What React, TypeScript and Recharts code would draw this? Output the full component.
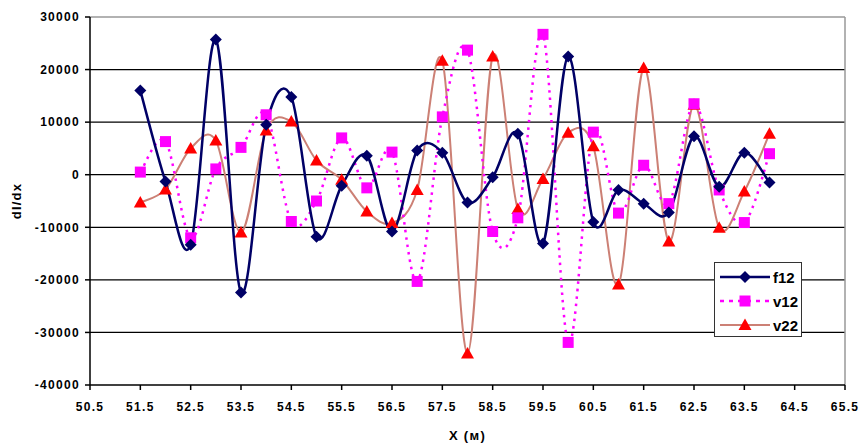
import { CartesianGrid, Label, Line, LineChart, ReferenceLine, XAxis, YAxis } from "recharts"

const xs = [51.5, 52, 52.5, 53, 53.5, 54, 54.5, 55, 55.5, 56, 56.5, 57, 57.5, 58, 58.5, 59, 59.5, 60, 60.5, 61, 61.5, 62, 62.5, 63, 63.5, 64]
const f12 = [16000, -1300, -13300, 25700, -22400, 9500, 14800, -11800, -2100, 3600, -10800, 4600, 4200, -5300, -500, 7800, -13100, 22500, -9000, -2900, -5500, -7200, 7300, -2300, 4200, -1500]
const v12 = [500, 6300, -12000, 1100, 5200, 11400, -8900, -5000, 7000, -2500, 4300, -20300, 11000, 23700, -10800, -8200, 26700, -31900, 8100, -7300, 1800, -5500, 13500, -2900, -9100, 4000]
const v22 = [-5300, -2800, 5000, 6500, -11000, 8400, 10100, 2700, -950, -7000, -9200, -2900, 21700, -34000, 22500, -6500, -800, 8000, 5400, -20900, 20300, -12700, 13300, -10100, -3200, 7800]
const xTicks = [50.5, 51.5, 52.5, 53.5, 54.5, 55.5, 56.5, 57.5, 58.5, 59.5, 60.5, 61.5, 62.5, 63.5, 64.5, 65.5]
const yTicks = [-40000, -30000, -20000, -10000, 0, 10000, 20000, 30000]

const data = xs.map((x, i) => ({ x, f12: f12[i], v12: v12[i], v22: v22[i] }))

// excel-like smoothed line (catmull-rom)
const smooth = (ctx: any) => {
  let pts: number[][] = []
  return {
    areaStart() {},
    areaEnd() {},
    lineStart() {
      pts = []
    },
    point(x: number, y: number) {
      pts.push([+x, +y])
    },
    lineEnd() {
      if (!pts.length) return
      ctx.moveTo(pts[0][0], pts[0][1])
      for (let i = 0; i < pts.length - 1; i++) {
        const a = pts[i - 1] || pts[i]
        const b = pts[i]
        const c = pts[i + 1]
        const d = pts[i + 2] || c
        ctx.bezierCurveTo(
          b[0] + (c[0] - a[0]) / 6,
          b[1] + (c[1] - a[1]) / 6,
          c[0] - (d[0] - b[0]) / 6,
          c[1] - (d[1] - b[1]) / 6,
          c[0],
          c[1]
        )
      }
    },
  }
}

const NAVY = "#000066"
const MAGENTA = "#FF00FF"
const RED = "#FF0000"
const ROSE = "#CC8075"

const Diamond = ({ cx, cy }: any) => <path d={`M${cx},${cy - 6}L${cx + 6},${cy}L${cx},${cy + 6}L${cx - 6},${cy}Z`} fill={NAVY} />
const Square = ({ cx, cy }: any) => <rect x={cx - 5.5} y={cy - 5.5} width={11} height={11} fill={MAGENTA} />
const Triangle = ({ cx, cy }: any) => <path d={`M${cx},${cy - 6.5}L${cx + 6.5},${cy + 5}L${cx - 6.5},${cy + 5}Z`} fill={RED} />

const font = "'Liberation Sans', Arial, sans-serif"
const tickStyle = { fill: "#000", fontFamily: font, fontWeight: "bold", fontSize: 12, letterSpacing: 1.3 }

function LegendBox() {
  const rows = [
    { name: "f12", color: NAVY, dash: undefined, w: 2.5, M: Diamond },
    { name: "v12", color: MAGENTA, dash: "4 5", w: 2.5, M: Square },
    { name: "v22", color: ROSE, dash: undefined, w: 2, M: Triangle },
  ]
  return (
    <div
      style={{
        position: "absolute",
        left: 714,
        top: 262,
        width: 86,
        height: 73,
        background: "#fff",
        border: "1.5px solid #333",
      }}
    >
      <svg width={86} height={73}>
        {rows.map((r, i) => {
          const y = 14 + i * 24
          return (
            <g key={r.name}>
              <line x1={5} x2={55} y1={y} y2={y} stroke={r.color} strokeWidth={r.w} strokeDasharray={r.dash} />
              <r.M cx={30} cy={y} />
              <text x={58} y={y + 5.5} fontFamily={font} fontWeight="bold" fontSize={15} fill="#000">
                {r.name}
              </text>
            </g>
          )
        })}
      </svg>
    </div>
  )
}

export default function App() {
  return (
    <div style={{ position: "absolute", left: 0, top: 0, width: 864, height: 443, background: "#fff" }}>
      <LineChart width={864} height={443} data={data} margin={{ top: 17, right: 19, left: 0, bottom: 0 }}>
        <CartesianGrid vertical={false} horizontalValues={[-30000, -20000, -10000, 0, 10000, 20000]} stroke="#000" strokeWidth={1.2} />
        <ReferenceLine y={30000} stroke="#999" strokeWidth={1.5} />
        <ReferenceLine x={65.5} stroke="#999" strokeWidth={1.5} />
        <XAxis
          dataKey="x"
          type="number"
          domain={[50.5, 65.5]}
          ticks={xTicks}
          tickFormatter={(v: number) => v.toFixed(1)}
          height={58}
          stroke="#000"
          strokeWidth={1.5}
          tickSize={5}
          tickMargin={12}
          interval={0}
          tick={tickStyle}
        >
          <Label value="X (м)" position="insideBottom" offset={3} style={{ fill: "#000", fontFamily: font, fontWeight: "bold", fontSize: 13, letterSpacing: 1.3 }} />
        </XAxis>
        <YAxis
          type="number"
          domain={[-40000, 30000]}
          ticks={yTicks}
          width={90}
          stroke="#000"
          strokeWidth={1.5}
          tickSize={5}
          tickMargin={5}
          interval={0}
          tick={tickStyle}
        >
          <Label value="dI/dx" angle={-90} position="insideLeft" offset={16} style={{ fill: "#000", fontFamily: font, fontWeight: "bold", fontSize: 13, letterSpacing: 1.2, textAnchor: "middle" }} />
        </YAxis>
        <Line dataKey="v22" type={smooth as any} stroke={ROSE} strokeWidth={2} dot={<Triangle />} isAnimationActive={false} />
        <Line dataKey="v12" type={smooth as any} stroke={MAGENTA} strokeWidth={2.5} strokeDasharray="2.5 5" dot={<Square />} isAnimationActive={false} />
        <Line dataKey="f12" type={smooth as any} stroke={NAVY} strokeWidth={2.5} dot={<Diamond />} isAnimationActive={false} />
      </LineChart>
      <LegendBox />
    </div>
  )
}
